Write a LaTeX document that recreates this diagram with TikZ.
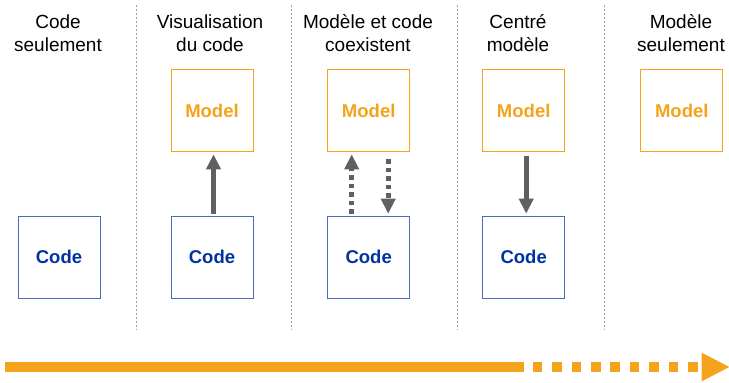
\documentclass[tikz,border=0pt]{standalone}
\usepackage{fontspec}
\setmainfont{Liberation Sans}
\usetikzlibrary{arrows.meta}
\definecolor{modelorange}{HTML}{F5A31B}
\definecolor{codeblue}{HTML}{0033A0}
\definecolor{codeline}{HTML}{4A6CC0}
\definecolor{arrowgray}{HTML}{606060}
\definecolor{sepgray}{HTML}{A0A0A0}
\begin{document}
\begin{tikzpicture}[x=1pt, y=-1pt,
    title/.style={align=center, anchor=base, font=\fontsize{19}{23}\selectfont},
    modelbox/.style={draw=modelorange, line width=1pt, minimum width=82pt, minimum height=82pt,
      text=modelorange, font=\fontsize{18.5}{22}\selectfont\bfseries},
    codebox/.style={draw=codeline, line width=1pt, minimum width=82pt, minimum height=82pt,
      text=codeblue, font=\fontsize{18.5}{22}\selectfont\bfseries},
    link/.style={draw=arrowgray, line width=5pt, -{Triangle[length=15pt,width=14pt]},
      shorten <=2pt, shorten >=2pt},
    dotlink/.style={link, dash pattern=on 4.5pt off 4pt}]
  \useasboundingbox (0,0) rectangle (729,383);
  % column separators
  \foreach \x in {136.5, 291, 457, 604.5}
    \draw[sepgray, line width=0.6pt, dash pattern=on 2pt off 2pt] (\x,5) -- (\x,330);
  % titles (base = last line)
  \node[title] (t1) at (58,51.5) {Code\\seulement};
  \node[title] (t2) at (210,51.5) {Visualisation\\du code};
  \node[title] (t3) at (368,51.5) {Modèle et code\\coexistent};
  \node[title] (t4) at (518,51.5) {Centré\\modèle};
  \node[title] (t5) at (681,51.5) {Modèle\\seulement};
  % boxes
  \node[modelbox] (model2) at (212,110.8) {Model};
  \node[modelbox] (model3) at (368.7,110.8) {Model};
  \node[modelbox] (model4) at (523.7,110.8) {Model};
  \node[modelbox] (model5) at (681.8,110.8) {Model};
  \node[codebox] (code1) at (59,257.2) {Code};
  \node[codebox] (code2) at (212,257.2) {Code};
  \node[codebox] (code3) at (368.7,257.2) {Code};
  \node[codebox] (code4) at (523.7,257.2) {Code};
  % arrows
  \draw[link] ([xshift=1.5pt]code2.north) -- ([xshift=1.5pt]model2.south);
  \draw[dotlink] ([xshift=-17pt]code3.north) -- ([xshift=-17pt]model3.south);
  \draw[dotlink, shorten <=7pt] ([xshift=19.5pt]model3.south) -- ([xshift=19.5pt]code3.north);
  \draw[link, shorten <=4pt] ([xshift=2.5pt]model4.south) -- ([xshift=2.5pt]code4.north);
  % timeline
  \coordinate (tlstart) at (5,367);
  \coordinate (tlmid) at (524,367);
  \coordinate (tldots) at (532.7,367);
  \coordinate (tlhead) at (701.7,367);
  \draw[modelorange, line width=9.5pt] (tlstart) -- (tlmid);
  \draw[modelorange, line width=9.5pt, dash pattern=on 9.7pt off 9.7pt] (tldots) -- (tlhead);
  \fill[modelorange] (701.7,352.7) -- (729.3,367) -- (701.7,381.3) -- cycle;
\end{tikzpicture}
\end{document}
